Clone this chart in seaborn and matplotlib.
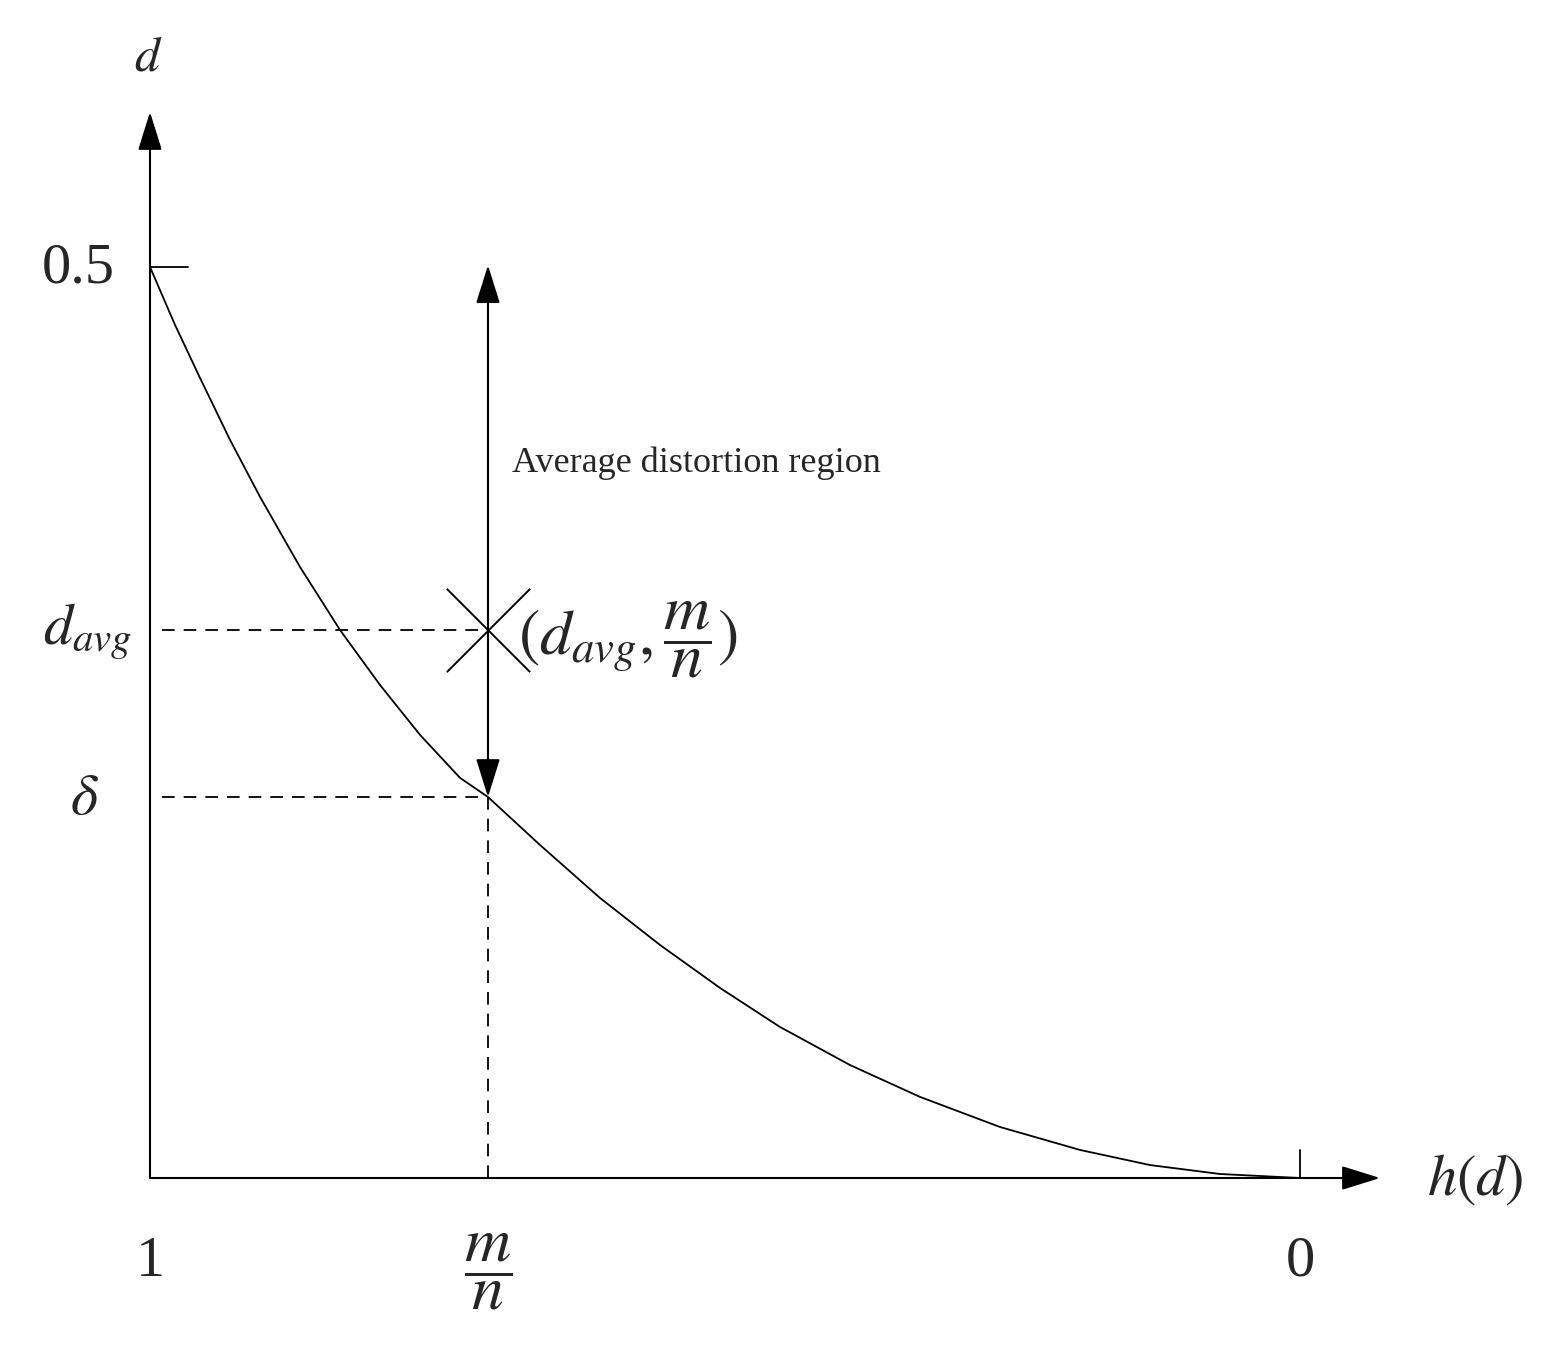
import matplotlib
matplotlib.use("Agg")
import matplotlib.pyplot as plt
import seaborn as sns
import pandas as pd

# curve d(h): u = horizontal position (0 at h=1, 1 at h=0), d = distortion
curve_u = [0, 0.0217, 0.0435, 0.0696, 0.0957, 0.1304, 0.1652, 0.2, 0.2348, 0.2696,
           0.2939, 0.3391, 0.3913, 0.4435, 0.4957, 0.5478, 0.6087, 0.6696, 0.7391,
           0.8087, 0.8696, 0.9304, 1.0]
curve_d = [0.5, 0.4683, 0.4391, 0.4051, 0.3738, 0.3354, 0.3008, 0.2706, 0.2432, 0.2196,
           0.2091, 0.1828, 0.1537, 0.1279, 0.1043, 0.0829, 0.0620, 0.0445, 0.0280,
           0.0154, 0.0071, 0.0022, 0.0]
mn_u = 0.2939
delta_d = 0.2091
davg_d = 0.3008
region_top = 0.501

sns.set_style("white")
plt.rcParams["font.family"] = ["Liberation Serif", "DejaVu Serif"]
plt.rcParams["mathtext.fontset"] = "stix"

W, H = 1556, 1349
fig = plt.figure(figsize=(W / 100, H / 100), dpi=100)
ax = fig.add_axes([0, 0, 1, 1])

def px2u(px):
    return (px - 150) / 1150

def py2d(py):
    return 0.5 * (1178 - py) / 911

ax.set_xlim(px2u(0), px2u(W))
ax.set_ylim(py2d(H), py2d(0))
ax.axis("off")

df = pd.DataFrame({"u": curve_u, "d": curve_d})
sns.lineplot(data=df, x="u", y="d", color="black", lw=1.3, ax=ax)

arrow = dict(arrowstyle="-|>,head_length=2.4,head_width=0.75", color="black", lw=1.5,
             shrinkA=0, shrinkB=0)
# axes
ax.annotate("", xy=(0, py2d(112)), xytext=(0, 0), arrowprops=arrow)
ax.annotate("", xy=(px2u(1380), 0), xytext=(0, 0), arrowprops=arrow)
# ticks
ax.plot([0, px2u(188)], [0.5, 0.5], color="black", lw=1.3)
ax.plot([1, 1], [0, py2d(1150)], color="black", lw=1.3)

# dashed guides
ax.plot([0.01, mn_u], [davg_d, davg_d], ls="--", color="black", lw=1.3, dashes=(7, 5))
ax.plot([0.01, mn_u], [delta_d, delta_d], ls="--", color="black", lw=1.3, dashes=(7, 5))
ax.plot([mn_u, mn_u], [0, delta_d], ls="--", color="black", lw=1.3, dashes=(7, 5))

# region arrow (double)
ax.annotate("", xy=(mn_u, region_top), xytext=(mn_u, davg_d), arrowprops=arrow)
ax.annotate("", xy=(mn_u, delta_d), xytext=(mn_u, davg_d), arrowprops=arrow)
ax.scatter([mn_u], [davg_d], marker="x", s=3600, color="black", linewidths=1.4, zorder=5)

ts = 42
ax.text(px2u(148), py2d(58), "$d$", fontsize=36, ha="center", va="center")
ax.text(px2u(78), py2d(268), "0.5", fontsize=ts, ha="center", va="center")
ax.text(px2u(88), py2d(632), r"$d_{avg}$", fontsize=ts, ha="center", va="center")
ax.text(px2u(84), py2d(800), r"$\delta$", fontsize=ts, ha="center", va="center")
ax.text(0, py2d(1262), "1", fontsize=ts, ha="center", va="center")
ax.text(mn_u, py2d(1272), r"$\dfrac{m}{n}$", fontsize=46, ha="center", va="center")
ax.text(1, py2d(1262), "0", fontsize=ts, ha="center", va="center")
ax.text(px2u(1475), py2d(1180), r"$h(d)$", fontsize=ts, ha="center", va="center")
ax.text(px2u(512), py2d(463), "Average distortion region", fontsize=26, ha="left", va="center")
ax.text(px2u(518), py2d(640), r"$(d_{avg},\dfrac{m}{n})$", fontsize=46, ha="left", va="center")

fig.savefig("out.png", dpi=100)
